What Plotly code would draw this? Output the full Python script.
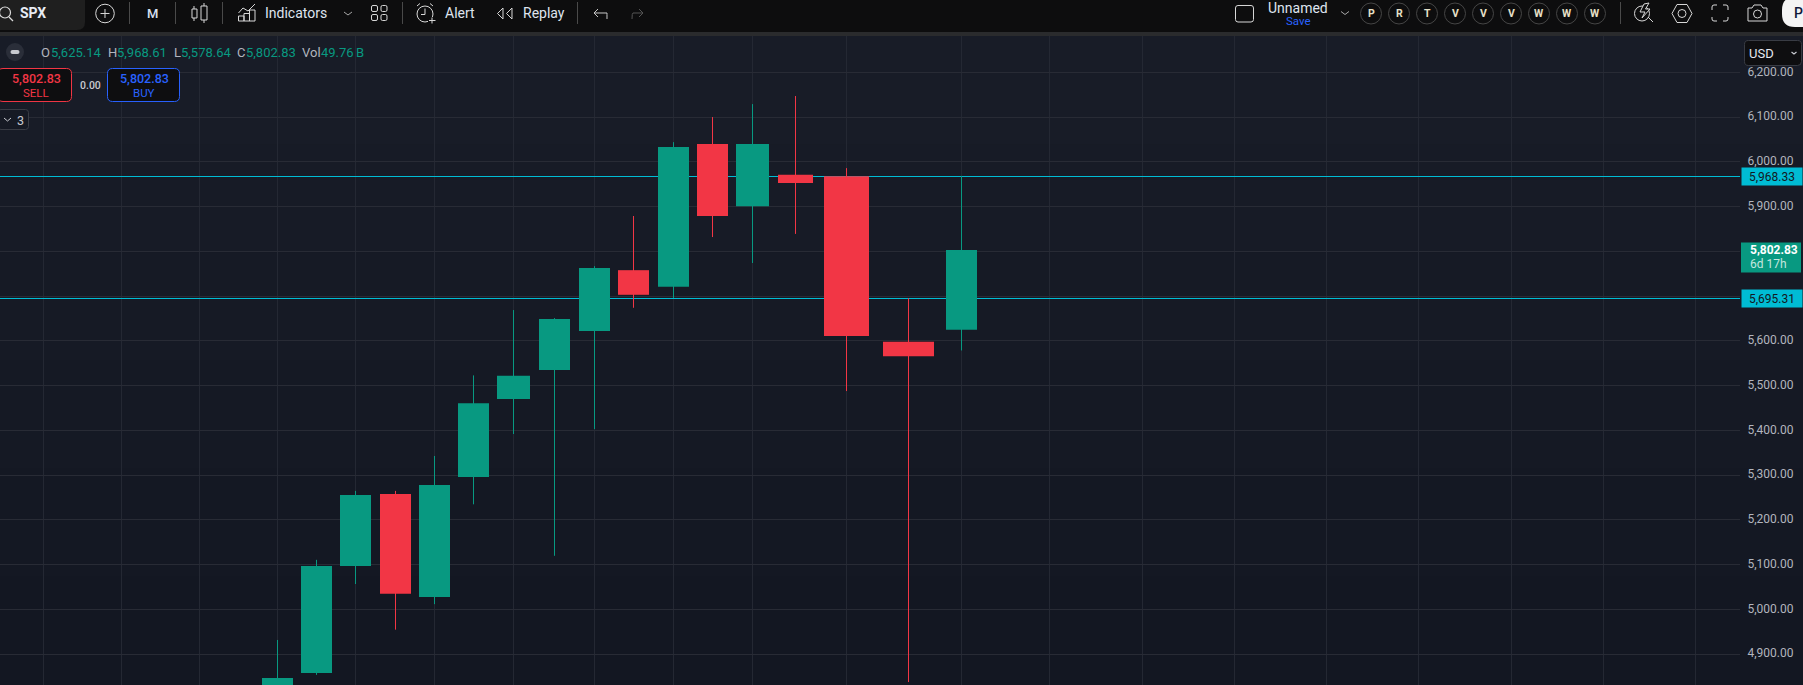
import re
import plotly.graph_objects as go

# ---------- data ----------
months = ["2024-01","2024-02","2024-03","2024-04","2024-05","2024-06","2024-07","2024-08","2024-09",
          "2024-10","2024-11","2024-12","2025-01","2025-02","2025-03","2025-04","2025-05"]
open_  = [4745,4858,5097,5258,5028,5296,5470,5535,5622,5758,5721,6040,5901,5971,5968,5598,5625.14]
high   = [4932,5111,5265,5265,5343,5523,5669,5651,5767,5879,6044,6100,6129,6147,5986,5695.31,5968.61]
low    = [4682,4854,5057,4955,5012,5235,5392,5120,5403,5674,5696,5832,5774,5839,5488,4838,5578.64]
close  = [4847,5097,5256,5035,5278,5461,5522,5649,5763,5703,6033,5879,6040,5953,5611,5566,5802.83]

# horizontal position and body width of each monthly bar on the time axis
bar_slot  = [277.5,316.5,355.5,395.5,434.5,473.5,513.5,554.5,594.5,633.5,673.5,712.5,752.5,795.5,846.5,908.5,961.5]
bar_width = [31,31,31,31,31,31,33,31,31,31,31,31,33,35,45,51,31]
grid_slots = [43.5,121.5,199.5,277.5,355.5,434.5,513.5,594.5,673.5,752.5,846.5,961.5,1049.5,1142.5,1234.5,1326.5,1418.5,1511.5,1603.5,1695.5]
price_ticks = [4900,5000,5100,5200,5300,5400,5500,5600,5700,5800,5900,6000,6100,6200]
covered_ticks = [5700, 5800]   # these labels sit behind the live price tags
level_lines = [5968.33, 5695.31]
last_price = 5802.83
legend_text = [("O",40,"5,625.14",50),("H",107,"5,968.61",116),("L",173,"5,578.64",180),("C",236,"5,802.83",245),("Vol",301,"49.76",320),("",0,"B",355)]
watch_letters = ["P","R","T","V","V","V","W","W","W"]

# ---------- style ----------
W, H = 1803, 685
GREEN, RED, CYAN, BLUE = "#089981", "#f23645", "#00bcd4", "#2962ff"
FONT = "Roboto"
PLOT_R, PLOT_T = 1740, 36
Y_TOP, Y_BOT = 6281.1, 4831.4

def px(x): return x / W
def py(y): return 1 - y / H

def snap(v):
    """Nudge a price so a 1px line lands on a whole pixel row."""
    k = (H - PLOT_T) / (Y_TOP - Y_BOT)
    row = PLOT_T + (Y_TOP - v) * k
    row = int(row) + 0.5
    return Y_TOP - (row - PLOT_T) / k

shapes, anns = [], []

def P(d):
    toks = re.findall(r"[MLQCZ]|-?\d+\.?\d*", d)
    out, isx = [], True
    for t in toks:
        if t in "MLQCZ":
            out.append(t); isx = True
        else:
            v = float(t)
            out.append(f"{px(v):.6f}" if isx else f"{py(v):.6f}")
            isx = not isx
    return " ".join(out)

def path(d, color="#d8d8d8", w=1, fill=None, layer="above"):
    s = dict(type="path", xref="paper", yref="paper", path=P(d), line=dict(color=color, width=w), layer=layer)
    if fill: s["fillcolor"] = fill
    shapes.append(s)

def rect(x0, y0, x1, y1, fill, line=None, layer="above", r=0, lw=1):
    if r:
        d = (f"M {x0+r} {y0} L {x1-r} {y0} Q {x1} {y0} {x1} {y0+r} L {x1} {y1-r} Q {x1} {y1} {x1-r} {y1} "
             f"L {x0+r} {y1} Q {x0} {y1} {x0} {y1-r} L {x0} {y0+r} Q {x0} {y0} {x0+r} {y0} Z")
        shapes.append(dict(type="path", xref="paper", yref="paper", path=P(d), fillcolor=fill,
                           line=dict(color=line or "rgba(0,0,0,0)", width=lw if line else 0), layer=layer))
    else:
        shapes.append(dict(type="rect", xref="paper", yref="paper", x0=px(x0), x1=px(x1), y0=py(y1), y1=py(y0),
                           fillcolor=fill, line=dict(color=line or "rgba(0,0,0,0)", width=lw if line else 0), layer=layer))

def circle(cx, cy, r, color="#d8d8d8", fill="rgba(0,0,0,0)", w=1):
    shapes.append(dict(type="circle", xref="paper", yref="paper", x0=px(cx-r), x1=px(cx+r), y0=py(cy+r), y1=py(cy-r),
                       line=dict(color=color, width=w), fillcolor=fill, layer="above"))

def text(x, y, s, size=12, color="#d8d8d8", anchor="left", weight=400):
    anns.append(dict(xref="paper", yref="paper", x=px(x), y=py(y), text=s, showarrow=False, xanchor=anchor, yanchor="middle",
                     borderpad=0, font=dict(family=FONT, size=size, color=color, weight=weight)))

# background gradient, top to bottom
bands = ["#181c27", "#171b26", "#161a25", "#151924", "#141823", "#131722"]
band_h = (H - PLOT_T) / len(bands)
for i, c in enumerate(bands):
    rect(0, PLOT_T + i * band_h, W, PLOT_T + (i + 1) * band_h + 1, c, layer="below")

# level lines
for v in level_lines:
    sv = snap(v)
    shapes.append(dict(type="line", xref="x", yref="y", x0=0, x1=PLOT_R, y0=sv, y1=sv,
                       line=dict(color=CYAN, width=1), layer="between"))

# toolbar
rect(0, 0, W, 32, "#0d0d0e")
rect(0, 32, W, 36, "#2a2b2d")
rect(-10, -10, 85, 30, "#1f1f1f", r=8)
circle(5, 12.5, 5.5, "#dcdcdc", w=1.2)
path("M 9 17 L 13 21", "#dcdcdc", 1.2)
text(19, 13.5, "SPX", 14, "#e8ecf4", weight=700)
circle(105, 13.5, 9.3, "#d8d8d8")
path("M 100.5 13.5 L 109.5 13.5 M 105 9 L 105 18", "#d8d8d8")
for sx in [129.5, 175.5, 222.5, 402.5, 577.5, 1620.5]:
    path(f"M {sx} 2 L {sx} 24", "#4a4a4a")
text(152.5, 13.5, "M", 13, "#d7e0f2", "center", 500)
path("M 194 6 L 194 9 M 194 18 L 194 21 M 204 3 L 204 6 M 204 20 L 204 23", "#d8d8d8")
path("M 192 9 L 197 9 L 197 18 L 192 18 Z M 201 6 L 207 6 L 207 20 L 201 20 Z", "#d8d8d8")
path("M 238.5 13 L 243 8 L 248 11 L 255 4", "#d8d8d8")
path("M 238.5 21 L 238.5 16 L 244 16 L 244 21 M 244 21 L 244 13.5 L 249.5 13.5 L 249.5 21 M 249.5 21 L 249.5 10 L 255 10 L 255 21 L 238.5 21", "#d8d8d8")
text(264, 13.5, "Indicators", 14, "#dfe4ee")
path("M 344 12 L 348 15 L 352 12", "#a8a8a8")
for gx, gy in [(371.5,5.5),(381,5.5),(371.5,14.5),(381,14.5)]:
    rect(gx, gy, gx+6, gy+6, "rgba(0,0,0,0)", "#d8d8d8", r=1.5)
circle(425, 14, 8, "#d8d8d8")
path("M 425 8.5 L 425 14.5 L 421 14.5", "#d8d8d8")
path("M 417 6 L 420 3.5 M 433 6 L 430 3.5", "#d8d8d8")
rect(428, 17, 437, 23.5, "#0d0d0e")
path("M 432 17.5 L 432 23.5 M 429 20.5 L 435.5 20.5", "#d8d8d8")
text(444, 13.5, "Alert", 14, "#dfe4ee")
path("M 503 8 L 497.5 13.5 L 503 19 Z M 512 8 L 506.5 13.5 L 512 19 Z", "#d8d8d8")
text(522, 13.5, "Replay", 14, "#dfe4ee")
path("M 594 13 L 607 13 Q 607 13 607 19 M 594 13 L 598 9 M 594 13 L 598 17", "#c8c8c8")
path("M 643 13 L 633 13 Q 632 13 632 19 M 643 13 L 639 9 M 643 13 L 639 17", "#555555")

rect(1235.5, 5.5, 1253.5, 22, "rgba(0,0,0,0)", "#d8d8d8", r=2.5)
text(1298, 8, "Unnamed", 14, "#dfe4ee", "center", 400)
text(1298, 21, "Save", 11.5, BLUE, "center")
path("M 1341 11.5 L 1345 14.5 L 1349 11.5", "#a8a8a8")
for i, letter in enumerate(watch_letters):
    cx = 1371 + 28 * i
    circle(cx, 13.5, 10.5, "#454545")
    text(cx, 13.7, letter, 10.5, "#e6e0c8", "center", 700)
circle(1642, 13.5, 7.5, "#d8d8d8")
path("M 1644 4 L 1640 12 L 1645 12 L 1642 18 L 1650 9 L 1645.5 9 L 1649 3 Z", "#d8d8d8", fill="#0d0d0e")
path("M 1648 17 L 1653 22", "#d8d8d8")
path("M 1672 13.5 L 1677 4.5 L 1687 4.5 L 1692 13.5 L 1687 22.5 L 1677 22.5 Z", "#d8d8d8")
circle(1682, 13.5, 4, "#d8d8d8")
path("M 1712 10 L 1712 7 Q 1712 5 1714 5 L 1717 5 M 1723 5 L 1726 5 Q 1728 5 1728 7 L 1728 10 "
     "M 1728 17 L 1728 19 Q 1728 21 1726 21 L 1723 21 M 1717 21 L 1714 21 Q 1712 21 1712 19 L 1712 17", "#d8d8d8")
path("M 1748 8 L 1752 8 L 1754 5 L 1761 5 L 1763 8 L 1767 8 L 1767 21 L 1748 21 Z", "#d8d8d8")
circle(1757.5, 14, 4, "#d8d8d8")
rect(1782, -3, 1830, 27, "#f4f4f4", r=13)
text(1793, 13.5, "P", 14, "#11183a", "left", 500)

# legend row
circle(15, 52, 9, "rgba(0,0,0,0)", "#2a2e39", 0)
rect(10.5, 50, 19.5, 54, "#c8cad0", r=2)
for lab, lx, val, vx in legend_text:
    if lab:
        text(lx, 52, lab, 13, "#b2b5be")
    text(vx, 52, val, 13, GREEN)

# trade buttons
rect(-2, 68.5, 71.5, 101.5, "#0e0e10", RED, r=5)
rect(107.5, 68.5, 179.5, 101.5, "#0e0e10", BLUE, r=5)
text(36, 78.5, f"{last_price:,.2f}", 12.5, RED, "center", 500)
text(36, 93, "SELL", 11.5, RED, "center")
text(144, 78.5, f"{last_price:,.2f}", 12.5, BLUE, "center", 500)
text(144, 93, "BUY", 11.5, BLUE, "center")
text(90, 85.5, "0.00", 10.5, "#c8cad0", "center", 500)
rect(-2, 109.5, 28.5, 129.5, "#161a24", "#3a3d45", r=3)
path("M 4 118 L 7.5 121 L 11 118", "#c8cad0")
text(20.5, 120, "3", 12.5, "#c8cad0", "center")

# USD selector
rect(1744.5, 40.5, 1801.5, 65.5, "#0e0e10", "#3a3d45", r=4)
text(1748, 53, "USD", 13, "#e6e9f0", weight=400)
path("M 1791.5 52 L 1794 54 L 1796.5 52", "#c8cad0", 1.2)

# axis price labels
for v in level_lines:
    anns.append(dict(xref="paper", yref="y", x=px(1741), y=v, text=f"{v:,.2f}", showarrow=False,
                     xanchor="left", yanchor="middle", width=60, height=17, bgcolor=CYAN, borderpad=0, align="center",
                     font=dict(family=FONT, size=12, color="#131722")))
rect(1741, 242.5, 1801, 272.5, GREEN)
text(1749, 250, f"{last_price:,.2f}", 12, "#ffffff", weight=700)
text(1749, 264, "6d 17h", 12, "#c4e6df")

# ---------- traces ----------
fig = go.Figure()
colors = [GREEN if c >= o else RED for o, c in zip(open_, close)]
fig.add_trace(go.Bar(x=bar_slot, base=[min(o, c) for o, c in zip(open_, close)],
                     y=[abs(c - o) for o, c in zip(open_, close)], width=bar_width,
                     marker=dict(color=colors, line=dict(width=0)), customdata=months, showlegend=False))
for col in (GREEN, RED):
    xs, ys = [], []
    for x, h, l, c in zip(bar_slot, high, low, colors):
        if c == col:
            xs += [x, x, None]; ys += [l, h, None]
    fig.add_trace(go.Scatter(x=xs, y=ys, mode="lines", line=dict(color=col, width=1), showlegend=False, hoverinfo="skip"))

tick_labels = ["" if t in covered_ticks else f"{t:,.2f}" for t in price_ticks]

fig.update_layout(
    width=W, height=H, margin=dict(l=0, r=0, t=0, b=0, pad=0),
    paper_bgcolor="#131722", plot_bgcolor="rgba(0,0,0,0)", showlegend=False, barmode="overlay",
    shapes=shapes, annotations=anns, font=dict(family=FONT),
    xaxis=dict(domain=[0, PLOT_R / W], range=[0, PLOT_R], tickmode="array", tickvals=grid_slots, ticktext=[""] * len(grid_slots),
               showgrid=True, gridcolor="#242833", gridwidth=1, zeroline=False, showline=False, ticks="", fixedrange=True),
    yaxis=dict(domain=[0, (H - PLOT_T) / H], range=[Y_BOT, Y_TOP], side="right", tickmode="array", tickvals=price_ticks,
               ticktext=tick_labels, showgrid=True, gridcolor="#282b35", gridwidth=1, zeroline=False, showline=False,
               ticks="outside", ticklen=4, tickcolor="rgba(0,0,0,0)", tickfont=dict(family=FONT, size=12, color="#b2b5be"),
               ticklabelshift=-1, fixedrange=True, automargin=False),
)
fig.write_html("out.html", config=dict(displayModeBar=False),
               post_script="document.body.style.margin='0';document.documentElement.style.overflow='hidden';document.body.style.background='#131722';")
